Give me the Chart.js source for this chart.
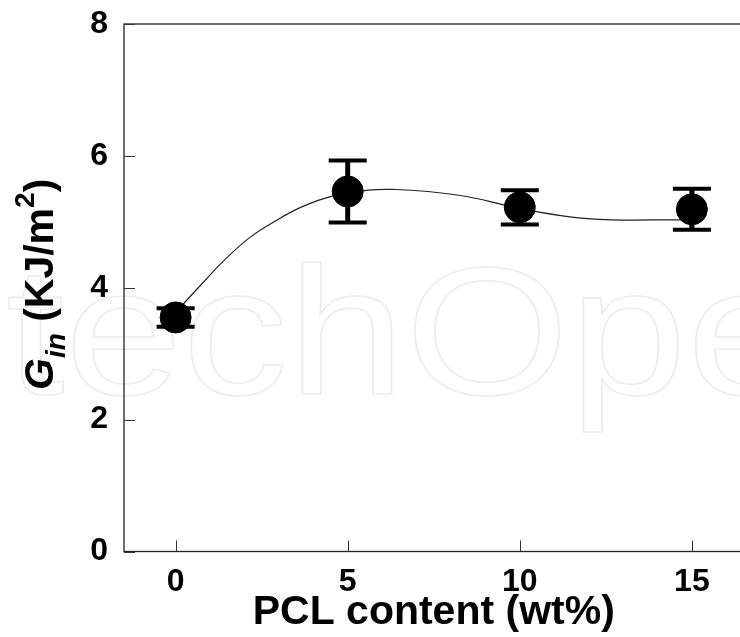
<!DOCTYPE html>
<html>
<head>
<meta charset="utf-8">
<script src="https://cdn.jsdelivr.net/npm/chart.js@4.4.1/dist/chart.umd.min.js"></script>
<style>
    html, body { margin: 0; padding: 0; overflow: hidden; background: #fff; }
    #wrap { width: 760px; height: 637px; }
</style>
</head>
<body>
<div id="wrap"><canvas id="ginChart" width="760" height="637"></canvas></div>
<script>
// measured points
const pclContent = [0, 5, 10, 15];
const ginMean = [3.55, 5.46, 5.22, 5.19];
const ginErr = [0.14, 0.47, 0.26, 0.31];

// fitted curve
const curveX = [0, 0.27, 0.8, 1.38, 2.15, 2.92, 3.68, 4.55, 5.61, 6.37, 7.33, 8.49, 9.59, 10.53, 11.7, 12.65, 14.53, 15];
const curveY = [3.62, 3.78, 4.08, 4.40, 4.76, 5.02, 5.23, 5.39, 5.48, 5.49, 5.46, 5.38, 5.25, 5.15, 5.06, 5.03, 5.03, 5.03];

const xTicks = [0, 5, 10, 15];
const yTicks = [0, 2, 4, 6, 8];

const FONT = "'Liberation Sans', Arial, sans-serif";

const watermark = {
    id: 'watermark',
    beforeDraw(chart) {
        const ctx = chart.ctx;
        ctx.save();
        ctx.translate(-170, 394);
        ctx.scale(1.16, 1);
        ctx.font = `182px ${FONT}`;
        ctx.strokeStyle = '#ececec';
        ctx.lineWidth = 1.5;
        ctx.textBaseline = 'alphabetic';
        ctx.strokeText('IntechOpen', 0, 0);
        ctx.restore();
    }
};

const errorBars = {
    id: 'errorBars',
    beforeDatasetsDraw(chart) {
        const ctx = chart.ctx;
        const xs = chart.scales.x, ys = chart.scales.y;
        ctx.save();
        ctx.strokeStyle = '#000';
        pclContent.forEach((x, i) => {
            const px = xs.getPixelForValue(x);
            const top = ys.getPixelForValue(ginMean[i] + ginErr[i]);
            const bot = ys.getPixelForValue(ginMean[i] - ginErr[i]);
            ctx.lineWidth = 5;
            ctx.beginPath();
            ctx.moveTo(px, top);
            ctx.lineTo(px, bot);
            ctx.stroke();
            ctx.lineWidth = 4;
            ctx.beginPath();
            ctx.moveTo(px - 19, top);
            ctx.lineTo(px + 19, top);
            ctx.moveTo(px - 19, bot);
            ctx.lineTo(px + 19, bot);
            ctx.stroke();
        });
        ctx.restore();
    }
};

const frame = {
    id: 'frame',
    afterDraw(chart) {
        const { ctx, chartArea: a, scales } = chart;
        ctx.save();
        ctx.strokeStyle = '#222';
        ctx.lineWidth = 1.3;
        ctx.strokeRect(a.left, a.top, a.right - a.left, a.bottom - a.top);

        // inward tick marks
        ctx.lineWidth = 1;
        ctx.strokeStyle = '#333';
        ctx.beginPath();
        yTicks.forEach(v => {
            const py = Math.round(scales.y.getPixelForValue(v)) + 0.5;
            ctx.moveTo(a.left, py);
            ctx.lineTo(a.left + 11, py);
        });
        xTicks.forEach(v => {
            const px = Math.round(scales.x.getPixelForValue(v)) + 0.5;
            ctx.moveTo(px, a.bottom);
            ctx.lineTo(px, a.bottom - 11);
        });
        ctx.stroke();

        // y axis title: G_in (KJ/m^2)
        ctx.translate(53, 390);
        ctx.rotate(-Math.PI / 2);
        ctx.fillStyle = '#000';
        ctx.textBaseline = 'alphabetic';
        let x = 0;
        const put = (txt, font, dy) => {
            ctx.font = font;
            ctx.fillText(txt, x, dy);
            x += ctx.measureText(txt).width;
        };
        put('G', `italic bold 41px ${FONT}`, 0);
        put('in', `italic bold 28px ${FONT}`, 12);
        put(' (KJ/m', `bold 41px ${FONT}`, 0);
        put('2', `bold 28px ${FONT}`, -19);
        put(')', `bold 41px ${FONT}`, 0);
        ctx.restore();
    }
};

new Chart(document.getElementById('ginChart'), {
    type: 'scatter',
    data: {
        datasets: [
            {
                data: pclContent.map((x, i) => ({ x, y: ginMean[i] })),
                backgroundColor: '#000',
                borderColor: '#000',
                pointRadius: 15.5,
                pointHoverRadius: 15.5,
                order: 0
            },
            {
                data: curveX.map((x, i) => ({ x, y: curveY[i] })),
                showLine: true,
                tension: 0.4,
                borderColor: '#222',
                borderWidth: 1.2,
                pointRadius: 0,
                order: 1
            }
        ]
    },
    options: {
        responsive: false,
        animation: false,
        events: [],
        layout: { padding: { left: 0, top: 24, right: 12, bottom: 0 } },
        plugins: { legend: { display: false }, tooltip: { enabled: false } },
        scales: {
            x: {
                type: 'linear',
                min: -1.5,
                max: 16.5,
                afterBuildTicks: s => { s.ticks = xTicks.map(v => ({ value: v })); },
                afterFit: s => { s.height = 85.5; s.paddingLeft = 0; s.paddingRight = 0; },
                grid: { display: false, drawTicks: false },
                border: { display: false },
                ticks: {
                    color: '#000',
                    padding: 11,
                    font: { family: FONT, size: 32, weight: 'bold' }
                },
                title: {
                    display: true,
                    text: 'PCL content (wt%)',
                    color: '#000',
                    padding: { top: 0, bottom: 0 },
                    font: { family: FONT, size: 41, weight: 'bold' }
                }
            },
            y: {
                min: 0,
                max: 8,
                afterBuildTicks: s => { s.ticks = yTicks.map(v => ({ value: v })); },
                afterFit: s => { s.width = 124; s.paddingTop = 0; s.paddingBottom = 0; },
                grid: { display: false, drawTicks: false },
                border: { display: false },
                ticks: {
                    color: '#000',
                    padding: 16,
                    font: { family: FONT, size: 32, weight: 'bold' }
                }
            }
        }
    },
    plugins: [watermark, errorBars, frame]
});
</script>
</body>
</html>
